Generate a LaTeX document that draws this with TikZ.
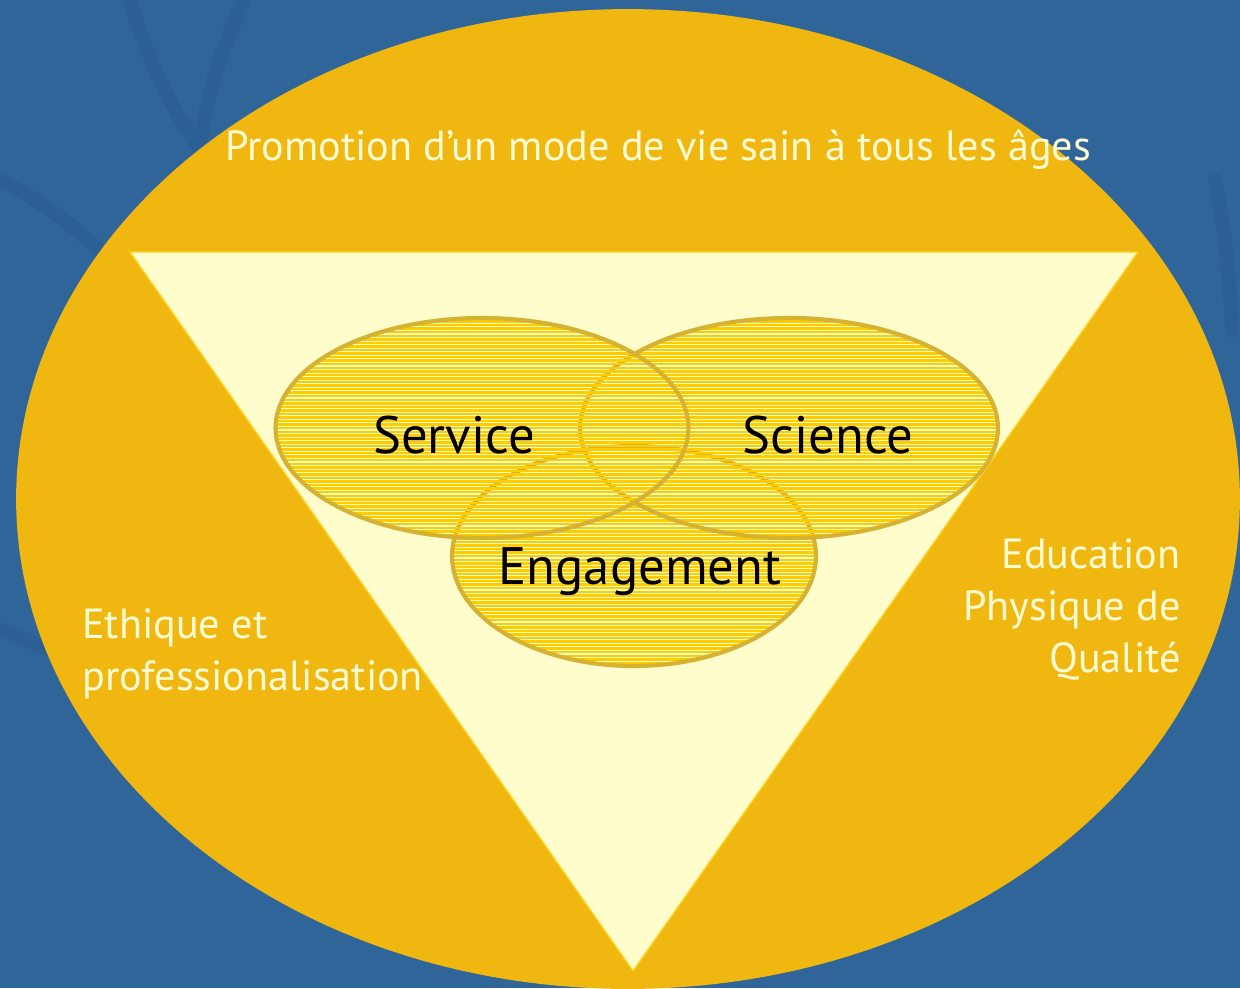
\documentclass[tikz,border=0pt]{standalone}
\usepackage{fontspec}
\setmainfont{PT Sans}
\usetikzlibrary{shapes.geometric}

\definecolor{bgblue}{HTML}{2F6599}
\definecolor{swirl}{HTML}{2C6094}
\definecolor{gold}{HTML}{F0B711}
\definecolor{pale}{HTML}{FFFDCC}
\definecolor{triedge}{HTML}{FFD21F}
\definecolor{hatchyellow}{HTML}{FFCC00}
\definecolor{ringline}{HTML}{D6B233}
\definecolor{cream}{HTML}{FFFBD2}

\begin{document}
\begin{tikzpicture}[x=0.02cm, y=-0.02cm,
    ring/.style={ellipse, draw=ringline, line width=2.4pt, inner sep=0pt, minimum height=4.4cm,
      path picture={\foreach \k in {0,...,64}
        \draw[hatchyellow, line width=1.4pt]
          ([yshift=-\k*2.0235pt]path picture bounding box.north west) --
          ([yshift=-\k*2.0235pt]path picture bounding box.north east);}},
    outer/.style={text=cream, font=\fontsize{24}{29.5}\selectfont, inner sep=0pt},
    inner/.style={text=black, font=\fontsize{30}{36}\selectfont, inner sep=0pt}]
  \useasboundingbox (0,0) rectangle (1240,988);
  \fill[bgblue] (0,0) rectangle (1240,988);
  % faint swirls in the background
  \draw[swirl, line width=8pt, line cap=round] (130,0) .. controls (150,70) and (180,120) .. (200,150);
  \draw[swirl, line width=8pt, line cap=round] (245,0) .. controls (220,50) and (205,100) .. (200,150);
  \draw[swirl, line width=8pt, line cap=round] (0,180) .. controls (40,200) and (80,230) .. (110,260);
  \draw[swirl, line width=8pt, line cap=round] (0,630) .. controls (60,650) and (110,680) .. (150,710);
  \draw[swirl, line width=8pt, line cap=round] (1215,180) .. controls (1225,230) and (1230,280) .. (1232,330);

  \fill[gold] (628,499) ellipse [x radius=12.24cm, y radius=9.8cm];
  \filldraw[fill=pale, draw=triedge, line width=0.8pt, line join=miter] (130,252) -- (1138,252) -- (633,971) -- cycle;

  \node[ring, minimum width=7.28cm] (engage) at (634,556) {};
  \node[ring, minimum width=8.36cm] (science) at (789,428) {};
  \node[ring, minimum width=8.26cm] (service) at (482,428) {};

  \node[inner, anchor=base] (serviceText) at (454,453) {Service};
  \node[inner, anchor=base] (scienceText) at (828,453) {Science};
  \node[inner, anchor=base] (engageText) at (640,584) {Engagement};

  \node[outer, anchor=base] (promo) at (658,160) {Promotion d’un mode de vie sain à tous les âges};
  \node[outer, anchor=base west, align=left] (ethique) at (82,690) {Ethique et\\professionalisation};
  \node[outer, anchor=base east, align=right] (education) at (1181,672) {Education\\Physique de\\Qualité};
\end{tikzpicture}
\end{document}
